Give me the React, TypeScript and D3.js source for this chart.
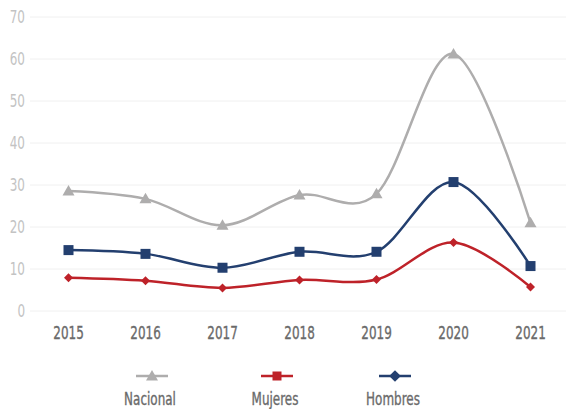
import React from "react";
import * as d3 from "d3";

const years = ["2015", "2016", "2017", "2018", "2019", "2020", "2021"];
const nacional = [28.6, 26.7, 20.4, 27.6, 27.9, 61.2, 21.0];
const mujeres = [7.9, 7.2, 5.5, 7.4, 7.5, 16.3, 5.7];
const hombres = [14.5, 13.6, 10.3, 14.1, 14.1, 30.7, 10.7];
const yTicks = [0, 10, 20, 30, 40, 50, 60, 70];

const W = 568, H = 409;
const FONT = "'DejaVu Sans Condensed', 'DejaVu Sans', sans-serif";

function NText(props: { x: number; y: number; anchor: string; fill: string; children: React.ReactNode; stroke?: boolean }) {
  return (
    <g transform={`translate(${props.x},${props.y}) scale(0.74,1)`}>
      <text x={0} y={0} dy="0.36em" textAnchor={props.anchor as any} fontSize={18} fill={props.fill}
        stroke={props.stroke ? props.fill : "none"} strokeWidth={props.stroke ? 0.35 : 0}>
        {props.children}
      </text>
    </g>
  );
}

export default function App() {
  const x = d3.scaleBand<string>().domain(years).range([30, 569]);
  const y = d3.scaleLinear().domain([0, 70]).range([311, 17]);
  const cx = (yr: string) => (x(yr) as number) + x.bandwidth() / 2;
  const line = d3.line<number>()
    .x((_, i) => cx(years[i]))
    .y((v) => y(v))
    .curve(d3.curveCardinal.tension(0));

  const series = [
    { name: "Nacional", data: nacional, color: "#aeadad", marker: "triangle" },
    { name: "Hombres", data: hombres, color: "#233f6f", marker: "square" },
    { name: "Mujeres", data: mujeres, color: "#be2229", marker: "diamond" },
  ];

  const marker = (type: string, px: number, py: number, color: string, scale = 1) => {
    if (type === "triangle") {
      const s = 6 * scale;
      return <path d={`M${px},${py - s} L${px + s},${py + s * 0.75} L${px - s},${py + s * 0.75} Z`} fill={color} />;
    }
    if (type === "square") {
      const s = 5 * scale;
      return <rect x={px - s} y={py - s} width={2 * s} height={2 * s} fill={color} />;
    }
    const s = 4.5 * scale;
    return <path d={`M${px},${py - s} L${px + s},${py} L${px},${py + s} L${px - s},${py} Z`} fill={color} />;
  };

  const legend = [
    { name: "Nacional", color: "#aeadad", marker: "triangle", cx: 152, tx: 150, sc: 1 },
    { name: "Mujeres", color: "#be2229", marker: "square", cx: 277, tx: 275, sc: 0.9 },
    { name: "Hombres", color: "#233f6f", marker: "diamond", cx: 395, tx: 393, sc: 1.3 },
  ];

  return (
    <svg width={W} height={H} style={{ position: "absolute", left: 0, top: 0, background: "#fff" }} fontFamily={FONT}>
      {yTicks.map((t) => (
        <g key={t}>
          <line x1={30} x2={566} y1={y(t)} y2={y(t)} stroke="#f0f0f0" strokeWidth={1} />
          <NText x={25} y={y(t)} anchor="end" fill="#c3c3c3">{t}</NText>
        </g>
      ))}
      {years.map((yr) => (
        <NText key={yr} x={cx(yr)} y={333} anchor="middle" fill="#6a6a6a" stroke>{yr}</NText>
      ))}
      {series.map((s) => (
        <g key={s.name}>
          <path d={line(s.data) || ""} fill="none" stroke={s.color} strokeWidth={2.5} />
          {s.data.map((v, i) => (
            <g key={i}>{marker(s.marker, cx(years[i]), y(v), s.color)}</g>
          ))}
        </g>
      ))}
      {legend.map((l) => (
        <g key={l.name}>
          <line x1={l.cx - 16} x2={l.cx + 16} y1={376} y2={376} stroke={l.color} strokeWidth={2.5} />
          {marker(l.marker, l.cx, 376, l.color, l.sc)}
          <NText x={l.tx} y={399} anchor="middle" fill="#6a6a6a" stroke>{l.name}</NText>
        </g>
      ))}
    </svg>
  );
}
